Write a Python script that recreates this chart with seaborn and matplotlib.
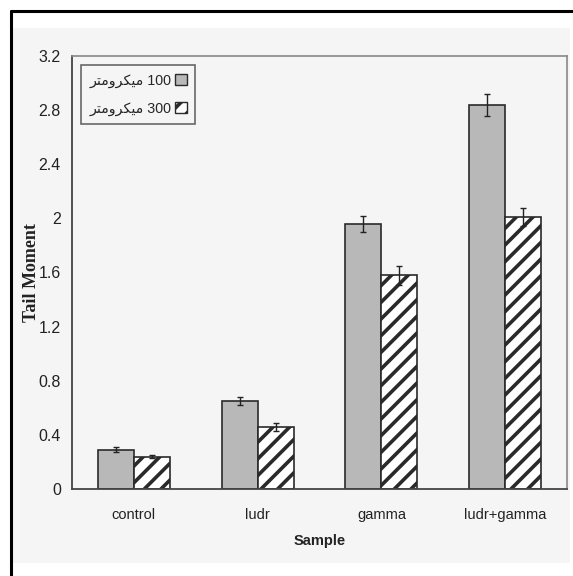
"""
Tail Moment per sample — grouped bars (100 / 300 micrometre) with error bars.
"""

import numpy as np
import pandas as pd
import matplotlib.pyplot as plt
import seaborn as sns
from matplotlib.patches import Patch, Rectangle
from matplotlib.lines import Line2D

# ─── DATA ─────────────────────────────────────────────────────────────────────
samples = ["control", "ludr", "gamma", "ludr+gamma"]
sizes = ["100", "300"]
mean_100 = [0.29, 0.65, 1.96, 2.84]
mean_300 = [0.24, 0.46, 1.58, 2.01]
err_100 = [0.02, 0.03, 0.06, 0.08]
err_300 = [0.01, 0.03, 0.07, 0.07]
y_ticks = [0, 0.4, 0.8, 1.2, 1.6, 2, 2.4, 2.8, 3.2]
y_tick_labels = ["0", "0.4", "0.8", "1.2", "1.6", "2", "2.4", "2.8", "3.2"]

# "میکرومتر" in Arabic presentation forms, already in visual order
MICRO = "\uFEAE\uFE98\uFEE3\uFEED\uFEAE\uFB91\uFEF4\uFEE3"
legend_labels = [MICRO + " 100", MICRO + " 300"]

df = pd.DataFrame({
    "Sample": samples * 2,
    "size": [sizes[0]] * len(samples) + [sizes[1]] * len(samples),
    "tm": mean_100 + mean_300,
})

# ─── STYLE ────────────────────────────────────────────────────────────────────
sns.set_style("white")
plt.rcParams["font.family"] = ["Liberation Sans", "DejaVu Sans"]
plt.rcParams["hatch.linewidth"] = 2.6

W, H = 573, 576
fig = plt.figure(figsize=(W / 100, H / 100), dpi=100)
fig.patch.set_facecolor("white")

# light panel + frame lines (top and left only, like the scan)
fig.patches.append(Rectangle((13 / W, 1 - 563 / H), 557 / W, 535 / H,
                             transform=fig.transFigure, facecolor="#f5f5f5",
                             edgecolor="none", zorder=-5))
fig.add_artist(Line2D([11 / W, 1], [1 - 11 / H] * 2, transform=fig.transFigure,
                      color="black", lw=2.2))
fig.add_artist(Line2D([11 / W] * 2, [0, 1 - 11 / H], transform=fig.transFigure,
                      color="black", lw=2.2))

ax = fig.add_axes([72 / W, 1 - 489 / H, (567 - 72) / W, (489 - 56) / H])
ax.set_facecolor("none")

sns.barplot(data=df, x="Sample", y="tm", hue="size", hue_order=sizes,
            palette=["#b8b8b8", "white"], width=0.58, gap=0, errorbar=None,
            edgecolor="#2a2a2a", linewidth=1.2, legend=False, ax=ax)

for cont, errs, hatch in zip(ax.containers, [err_100, err_300], [None, "//"]):
    for bar, e in zip(cont, errs):
        if hatch:
            bar.set_hatch(hatch)
        x = bar.get_x() + bar.get_width() / 2
        ax.errorbar(x, bar.get_height(), yerr=e, color="#222222",
                    lw=1, capsize=2, capthick=1, zorder=5)

# ─── AXES ─────────────────────────────────────────────────────────────────────
ax.set_xlim(-0.5, len(samples) - 0.5)
ax.set_ylim(0, 3.2)
ax.set_yticks(y_ticks)
ax.set_yticklabels(y_tick_labels)
ax.set_xticks(np.arange(len(samples) + 1) - 0.5, minor=True)
ax.tick_params(axis="x", which="major", length=0, pad=14, labelsize=10.5,
               colors="#222222")
ax.tick_params(axis="x", which="minor", length=5, width=1.2, direction="out",
               color="#333333")
ax.tick_params(axis="y", length=4, width=1, direction="out", pad=4,
               labelsize=11.5, color="#555555", labelcolor="#222222")

for s in ["left", "bottom"]:
    ax.spines[s].set_color("#444444")
    ax.spines[s].set_linewidth(1.3)
ax.spines["right"].set_color("#888888")
ax.spines["right"].set_linewidth(1.2)
ax.spines["top"].set_color("#888888")
ax.spines["top"].set_linewidth(1.2)
ax.spines["top"].set_linestyle((0, (1, 1)))

ax.set_xlabel("Sample", fontsize=10.5, fontweight="bold", color="#222222",
              labelpad=8)
ax.set_ylabel("Tail Moment", fontsize=13, fontweight="bold",
              family="Liberation Serif", color="#222222", labelpad=-1)

# ─── LEGEND ───────────────────────────────────────────────────────────────────
handles = [Patch(facecolor="#b8b8b8", edgecolor="#2a2a2a", lw=1),
           Patch(facecolor="white", edgecolor="#2a2a2a", hatch="//", lw=1)]
leg = ax.legend(handles, legend_labels, loc="upper left",
                bbox_to_anchor=(0.018, 0.979), borderaxespad=0,
                markerfirst=False, handlelength=0.8, handleheight=0.8,
                handletextpad=0.25, fontsize=10.3, frameon=True,
                fancybox=False, borderpad=0.6, labelspacing=0.95)
leg.get_frame().set_edgecolor("#444444")
leg.get_frame().set_linewidth(1.2)
leg.get_frame().set_facecolor("#f5f5f5")

plt.savefig("out.png", dpi=100)
plt.close()
